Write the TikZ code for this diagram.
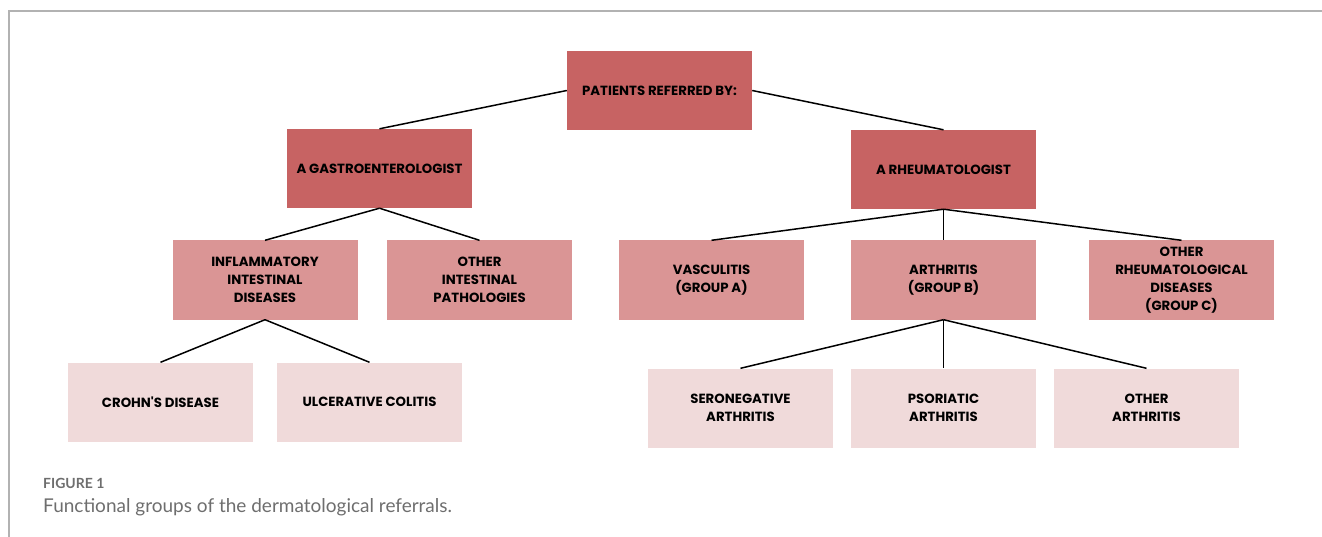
\documentclass[tikz,border=0pt]{standalone}
\usepackage{fontspec}
\setmainfont{Poppins}
\newfontfamily\captionfont{Lato}
\definecolor{darkred}{RGB}{199,99,99}
\definecolor{midred}{RGB}{218,149,149}
\definecolor{palered}{RGB}{240,218,218}
\definecolor{framegray}{RGB}{178,178,178}
\definecolor{capgray}{RGB}{110,110,110}

\begin{document}
\begin{tikzpicture}[x=1pt,y=-1pt,
		box/.style={minimum width=185pt,minimum height=79pt,align=center,inner sep=2pt,
			font=\bfseries\fontsize{13.3}{18}\selectfont},
		topbox/.style={box,fill=darkred},
		groupbox/.style={box,fill=midred},
		leafbox/.style={box,fill=palered},
		link/.style={line width=1.5pt}]
	\useasboundingbox (0,0) rectangle (1322,537);
	\draw[framegray,line width=1.5pt] (1322,11) -- (9,11) -- (9,537);
	% referral tree
	\node[topbox] (root) at (659.5,90.5) {PATIENTS REFERRED BY:};
	\node[topbox] (gastro) at (379.5,168.5) {A GASTROENTEROLOGIST};
	\node[topbox] (rheum) at (943.5,169.5) {A RHEUMATOLOGIST};
	\node[groupbox] (ibd) at (265,280) {INFLAMMATORY\\INTESTINAL\\DISEASES};
	\node[groupbox] (otherint) at (479.5,280) {OTHER\\INTESTINAL\\PATHOLOGIES};
	\node[groupbox] (vasc) at (711.5,280) {VASCULITIS\\(GROUP A)};
	\node[groupbox] (arth) at (943.5,280) {ARTHRITIS\\(GROUP B)};
	\node[groupbox] (otherrheum) at (1181.5,280) {OTHER\\RHEUMATOLOGICAL\\DISEASES\\(GROUP C)};
	\node[leafbox] (crohn) at (160.5,402) {CROHN\textquotesingle S DISEASE};
	\node[leafbox] (colitis) at (369.5,402) {ULCERATIVE COLITIS};
	\node[leafbox] (sero) at (740.5,408) {SERONEGATIVE\\ARTHRITIS};
	\node[leafbox] (psor) at (943.5,408) {PSORIATIC\\ARTHRITIS};
	\node[leafbox] (otherarth) at (1146.5,408) {OTHER\\ARTHRITIS};
	% connectors
	\draw[link] (root.west) -- (gastro.north);
	\draw[link] (root.east) -- (rheum.north);
	\foreach \child in {ibd,otherint} {\draw[link] (gastro.south) -- (\child.north);}
	\foreach \child in {vasc,arth,otherrheum} {\draw[link] (rheum.south) -- (\child.north);}
	\foreach \child in {crohn,colitis} {\draw[link] (ibd.south) -- (\child.north);}
	\foreach \child in {sero,psor,otherarth} {\draw[link] (arth.south) -- (\child.north);}
	% caption
	\node[anchor=base west,inner sep=0pt,text=capgray,font=\captionfont\bfseries\fontsize{14}{16}\selectfont] (figlabel) at (43,488) {FIGURE 1};
	\node[anchor=base west,inner sep=0pt,text=capgray,font=\captionfont\fontsize{19}{22}\selectfont] (figcaption) at (43,512) {Functional groups of the dermatological referrals.};
\end{tikzpicture}
\end{document}
